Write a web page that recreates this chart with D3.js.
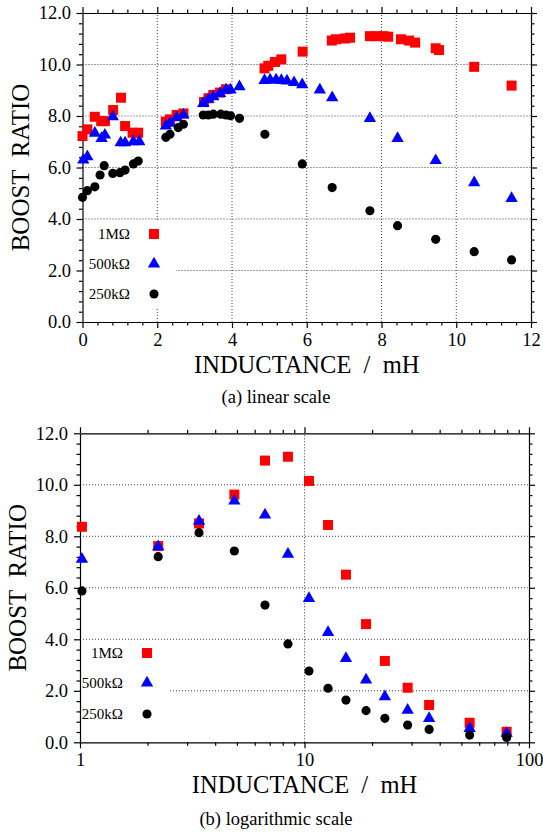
<!DOCTYPE html>
<html>
<head>
<meta charset="utf-8">
<script src="https://cdn.jsdelivr.net/npm/d3@7"></script>
<style>
  body { margin: 0; background: #fff; }
  svg { display: block; }
  svg text { font-family: 'Liberation Serif', 'Times New Roman', serif; fill: #000; }
  .grid line { stroke: #000; stroke-width: 1; stroke-dasharray: 1,2; opacity: 0.75; }
  .axis path, .axis line { stroke: #000; stroke-width: 1.2; }
  .axis text { font-size: 18.5px; }
</style>
</head>
<body>
<script>
// series labels
var seriesNames = ['1M\u03a9', '500k\u03a9', '250k\u03a9'];
var seriesColors = ['#ff0000', '#0000ff', '#000000'];
var seriesShapes = [d3.symbolSquare, d3.symbolTriangle, d3.symbolCircle];
var seriesSizes = [100, 66, 66];

// (a) linear scale data: [inductance mH, boost ratio]
var lin1M = [[0.0,7.22],[0.13,7.48],[0.33,7.97],[0.5,7.8],[0.6,7.8],[0.82,8.23],[1.03,8.71],[1.14,7.61],
  [1.34,7.35],[1.49,7.35],[2.23,7.78],[2.34,7.87],[2.52,8.04],[2.70,8.10],[3.25,8.54],[3.37,8.69],
  [3.50,8.82],[3.68,8.91],[3.84,9.04],[4.87,9.85],[4.97,9.95],[5.15,10.1],[5.32,10.2],[5.89,10.5],
  [6.67,10.93],[6.78,10.98],[7.02,11.01],[7.16,11.04],[7.69,11.1],[7.87,11.1],[8.05,11.1],[8.18,11.08],
  [8.52,10.98],[8.74,10.93],[8.90,10.85],[9.45,10.63],[9.54,10.56],[10.48,9.91],[11.48,9.18]];
var lin500k = [[0.02,6.29],[0.13,6.42],[0.33,7.33],[0.51,7.13],[0.60,7.26],[0.81,7.97],[1.02,6.96],
  [1.14,6.96],[1.36,7.0],[1.52,7.0],[2.23,7.61],[2.34,7.72],[2.52,7.93],[2.70,8.04],[3.23,8.49],
  [3.37,8.65],[3.50,8.75],[3.68,8.88],[3.84,9.01],[3.96,9.01],[4.20,9.14],[4.87,9.38],[5.02,9.40],
  [5.18,9.40],[5.32,9.38],[5.47,9.36],[5.66,9.3],[5.88,9.22],[6.35,9.01],[6.68,8.71],[7.69,7.91],
  [8.43,7.13],[9.45,6.27],[10.48,5.41],[11.48,4.80]];
var lin250k = [[0.0,4.84],[0.13,5.10],[0.33,5.25],[0.47,5.71],[0.58,6.07],[0.81,5.77],[1.0,5.80],
  [1.14,5.90],[1.36,6.14],[1.49,6.25],[2.23,7.17],[2.34,7.29],[2.56,7.55],[2.70,7.68],[3.23,8.04],
  [3.37,8.04],[3.50,8.07],[3.70,8.07],[3.84,8.04],[3.96,8.01],[4.20,7.91],[4.88,7.29],[5.88,6.14],
  [6.68,5.22],[7.69,4.32],[8.43,3.74],[9.45,3.21],[10.48,2.73],[11.48,2.41]];

// (b) logarithmic scale data
var log1M = [[1.02,8.37],[2.23,7.62],[3.39,8.50],[4.87,9.62],[6.67,10.94],[8.44,11.09],[10.47,10.15],
  [12.73,8.44],[15.3,6.51],[18.8,4.59],[22.8,3.16],[28.8,2.12],[35.9,1.45],[54.4,0.76],[79.5,0.41]];
var log500k = [[1.02,7.11],[2.23,7.6],[3.39,8.59],[4.87,9.37],[6.67,8.83],[8.44,7.31],[10.47,5.59],
  [12.73,4.27],[15.3,3.26],[18.8,2.42],[22.8,1.77],[28.8,1.25],[35.9,0.93],[54.4,0.54],[79.5,0.35]];
var log250k = [[1.02,5.88],[2.23,7.21],[3.39,8.14],[4.87,7.43],[6.67,5.33],[8.44,3.82],[10.47,2.77],
  [12.73,2.10],[15.3,1.64],[18.8,1.23],[22.8,0.93],[28.8,0.67],[35.9,0.50],[54.4,0.28],[79.5,0.19]];

var yTicks = [0, 2, 4, 6, 8, 10, 12];
var linXTicks = [0, 2, 4, 6, 8, 10, 12];
var logXTicks = [1, 10, 100];

var serif = "'Liberation Serif', 'Times New Roman', serif";

var svg = d3.select('body').append('svg')
  .attr('width', 543).attr('height', 832);

function drawPanel(opt) {
  var g = svg.append('g');
  var x = opt.x, y = opt.y;
  var x0 = x.range()[0], x1 = x.range()[1];
  var y0 = y.range()[0], y1 = y.range()[1];

  // grid
  var grid = g.append('g').attr('class', 'grid');
  grid.selectAll('.h').data([2, 4, 6, 8, 10]).enter().append('line')
    .attr('x1', x0).attr('x2', x1)
    .attr('y1', function(d) { return y(d); }).attr('y2', function(d) { return y(d); });
  grid.selectAll('.v').data(opt.vGrid).enter().append('line')
    .attr('y1', y0).attr('y2', y1)
    .attr('x1', function(d) { return x(d); }).attr('x2', function(d) { return x(d); });

  // legend box hides grid
  var lg = opt.legend;
  g.append('rect').attr('x', x0 + 1).attr('y', lg.boxTop)
    .attr('width', lg.boxRight - x0 - 1).attr('height', lg.boxBottom - lg.boxTop)
    .attr('fill', '#fff');

  // minor ticks
  function minor(axisFn, scale, vals, tr) {
    g.append('g').attr('class', 'axis').attr('transform', tr)
      .call(axisFn(scale).tickValues(vals).tickSize(3.5).tickFormat('').tickSizeOuter(0))
      .select('.domain').remove();
  }
  minor(d3.axisBottom, x, opt.xMinor, 'translate(0,' + y0 + ')');
  minor(d3.axisTop, x, opt.xMinor, 'translate(0,' + y1 + ')');
  minor(d3.axisLeft, y, opt.yMinor, 'translate(' + x0 + ',0)');
  minor(d3.axisRight, y, opt.yMinor, 'translate(' + x1 + ',0)');

  // major axes
  g.append('g').attr('class', 'axis').attr('transform', 'translate(0,' + y0 + ')')
    .call(d3.axisBottom(x).tickValues(opt.xTicks).tickSize(6).tickPadding(opt.xPad).tickSizeOuter(0)
      .tickFormat(d3.format('d')));
  g.append('g').attr('class', 'axis').attr('transform', 'translate(0,' + y1 + ')')
    .call(d3.axisTop(x).tickValues(opt.xTicks).tickSize(6).tickFormat('').tickSizeOuter(0));
  g.append('g').attr('class', 'axis').attr('transform', 'translate(' + x0 + ',0)')
    .call(d3.axisLeft(y).tickValues(yTicks).tickSize(6).tickPadding(opt.yPad).tickSizeOuter(0)
      .tickFormat(d3.format('.1f')));
  g.append('g').attr('class', 'axis').attr('transform', 'translate(' + x1 + ',0)')
    .call(d3.axisRight(y).tickValues(yTicks).tickSize(6).tickFormat('').tickSizeOuter(0));
  g.selectAll('.axis').attr('font-family', serif).attr('font-size', 18.5);

  // points
  opt.series.forEach(function(data, i) {
    g.append('g').selectAll('path').data(data).enter().append('path')
      .attr('d', d3.symbol().type(seriesShapes[i]).size(seriesSizes[i]))
      .attr('transform', function(d) { return 'translate(' + x(d[0]) + ',' + y(d[1]) + ')'; })
      .attr('fill', seriesColors[i]);
  });

  // legend
  seriesNames.forEach(function(name, i) {
    var ly = lg.rows[i];
    g.append('text').attr('x', lg.textRight).attr('y', ly).attr('dy', '0.33em')
      .attr('text-anchor', 'end').attr('font-size', 15).text(name);
    g.append('path')
      .attr('d', d3.symbol().type(seriesShapes[i]).size(seriesSizes[i]))
      .attr('transform', 'translate(' + lg.markX + ',' + ly + ')')
      .attr('fill', seriesColors[i]);
  });

  // titles
  g.append('text').attr('x', (x0 + x1) / 2).attr('y', opt.xTitleY)
    .attr('text-anchor', 'middle').attr('font-size', 24.5).style('white-space', 'pre')
    .text('INDUCTANCE  /  mH');
  g.append('text')
    .attr('transform', 'translate(' + opt.yTitleX + ',' + (y0 + y1) / 2 + ') rotate(-90)')
    .attr('text-anchor', 'middle').attr('font-size', 25).style('white-space', 'pre')
    .text('BOOST  RATIO');
  g.append('text').attr('x', 276).attr('y', opt.captionY)
    .attr('text-anchor', 'middle').attr('font-size', 18.5).text(opt.caption);
}

var minorY = d3.range(0, 12.01, 0.4).filter(function(v) { return Math.abs(v / 2 - Math.round(v / 2)) > 0.01; });

drawPanel({
  x: d3.scaleLinear().domain([0, 12]).range([82.5, 531]),
  y: d3.scaleLinear().domain([0, 12]).range([322, 13]),
  xTicks: linXTicks,
  xMinor: d3.range(0, 12.01, 0.4).filter(function(v) { return Math.abs(v / 2 - Math.round(v / 2)) > 0.01; }),
  yMinor: minorY,
  vGrid: [2, 4, 6, 8, 10],
  xPad: 5, yPad: 5.5,
  series: [lin1M, lin500k, lin250k],
  legend: { boxTop: 222, boxBottom: 309, boxRight: 176, textRight: 130, markX: 154, rows: [234, 264, 294] },
  xTitleY: 372.5, yTitleX: 28.5, captionY: 403, caption: '(a) linear scale'
});

drawPanel({
  x: d3.scaleLog().domain([1, 100]).range([80, 529]),
  y: d3.scaleLinear().domain([0, 12]).range([742.3, 433.3]),
  xTicks: logXTicks,
  xMinor: [2, 3, 4, 5, 6, 7, 8, 9, 20, 30, 40, 50, 60, 70, 80, 90],
  yMinor: minorY,
  vGrid: [10],
  xPad: 5, yPad: 6,
  series: [log1M, log500k, log250k],
  legend: { boxTop: 641, boxBottom: 728, boxRight: 169, textRight: 123, markX: 147, rows: [653, 683, 714] },
  xTitleY: 793, yTitleX: 26, captionY: 825, caption: '(b) logarithmic scale'
});
</script>
</body>
</html>
